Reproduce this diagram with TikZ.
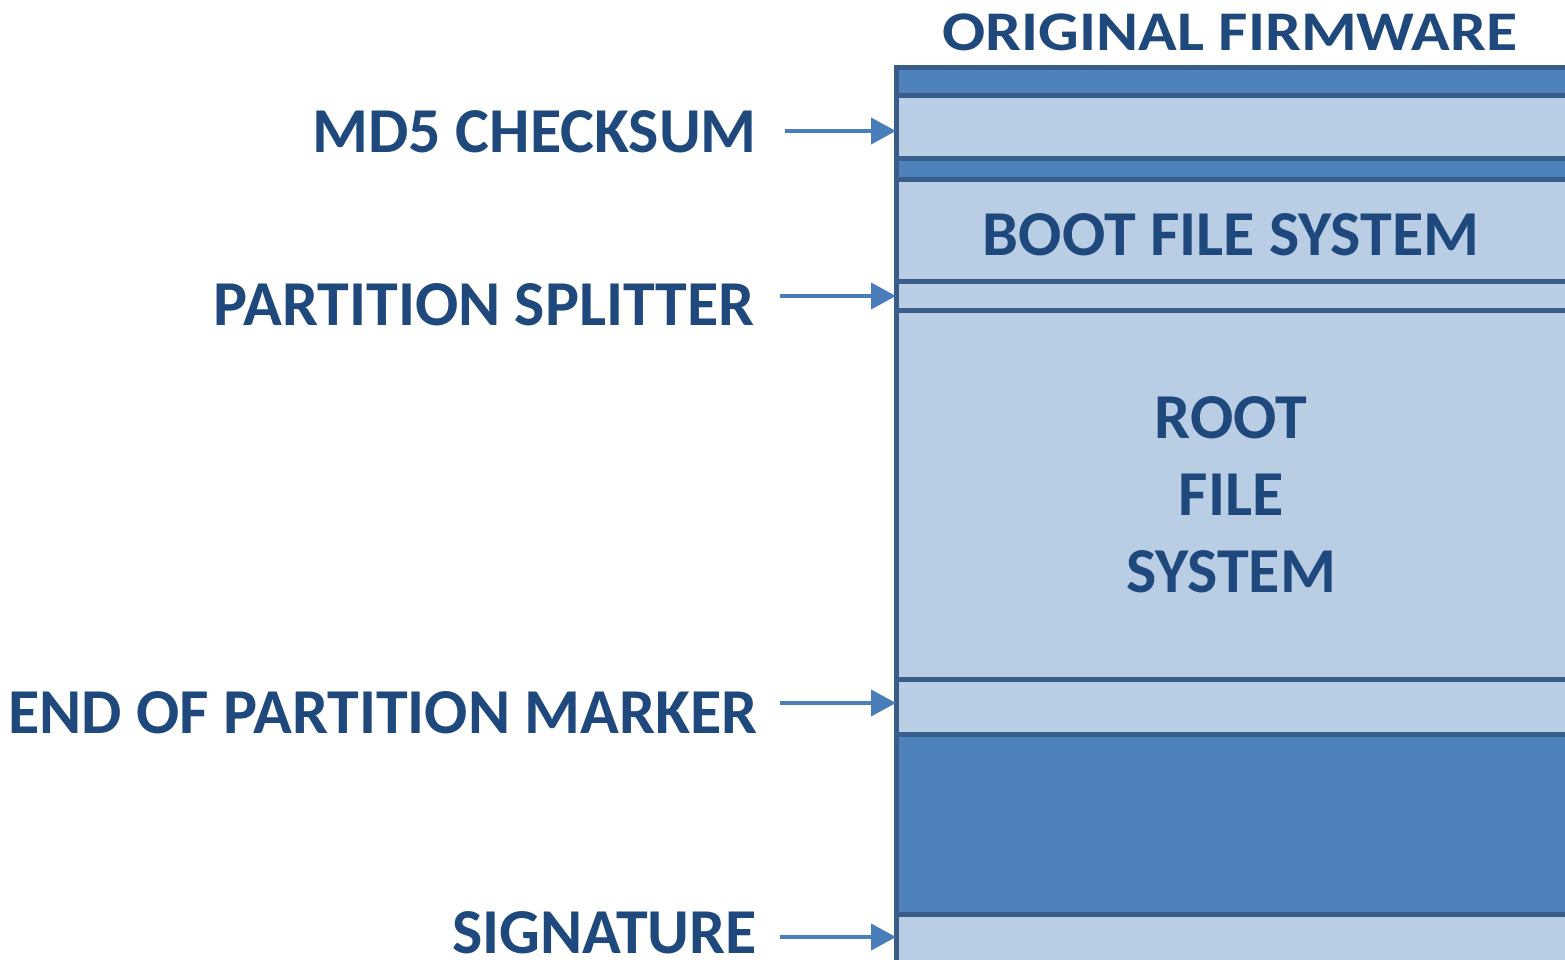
\documentclass[tikz,border=0pt]{standalone}
\usepackage{fontspec}
\setmainfont{Carlito}
\usetikzlibrary{arrows.meta}
\definecolor{txt}{HTML}{1F497D}
\definecolor{lightband}{HTML}{B9CDE5}
\definecolor{darkband}{HTML}{4F81BD}
\definecolor{bordercol}{HTML}{385D8A}
\definecolor{arrowcol}{HTML}{4A7EBB}
\begin{document}
\begin{tikzpicture}[x=1pt,y=-1pt,
  band/.style={draw=bordercol, line width=5pt, minimum width=724pt, inner sep=0pt, outer sep=0pt},
  lightb/.style={band, fill=lightband},
  darkb/.style={band, fill=darkband},
  lab/.style={font=\fontsize{64}{77}\selectfont\bfseries, text=txt, inner sep=0pt, text height=40pt, text depth=0pt},
  arr/.style={draw=arrowcol, line width=4pt, -{Triangle[length=25pt,width=26pt]}}
]
\useasboundingbox (0,0) rectangle (1565,960);
\clip (0,0) rectangle (1565,960);
% bands (x from 896 to 1620)
\node[darkb,  minimum height=27.5pt] (top)   at (1258, 81.75) {};
\node[lightb, minimum height=63.5pt] (md5)   at (1258, 127.25) {};
\node[darkb,  minimum height=20.5pt] (mid)   at (1258, 169.25) {};
\node[lightb, minimum height=101.5pt] (boot) at (1258, 230.25) {};
\node[lightb, minimum height=29.5pt] (split) at (1258, 295.75) {};
\node[lightb, minimum height=369pt] (root)   at (1258, 495) {};
\node[lightb, minimum height=54.5pt] (endm)  at (1258, 706.75) {};
\node[darkb,  minimum height=180pt] (low)    at (1258, 824) {};
\node[lightb, minimum height=86pt] (sig)     at (1258, 957) {};
% texts in box
\node[lab, font=\fontsize{56}{66}\selectfont\bfseries, text height=36pt, transform shape, xscale=1.14] (title) at (1230, 33) {ORIGINAL FIRMWARE};
\node[lab] (tboot) at (1231, 235) {BOOT FILE SYSTEM};
\node[lab, text height=, text depth=, align=center] (troot) at (1231, 495) {ROOT\\FILE\\SYSTEM};
% labels
\node[lab, anchor=east] (lmd5)   at (757, 133) {MD5 CHECKSUM};
\node[lab, anchor=east] (lsplit) at (755, 305) {PARTITION SPLITTER};
\node[lab, anchor=east] (lend)   at (758, 713) {END OF PARTITION MARKER};
\node[lab, anchor=east] (lsig)   at (757, 933) {SIGNATURE};
% arrows
\coordinate (amd5) at (785, 131);
\coordinate (asplit) at (780, 296);
\coordinate (aend) at (780, 703);
\coordinate (asig) at (780, 937);
\draw[arr] (amd5) -- (amd5 -| md5.west);
\draw[arr] (asplit) -- (asplit -| split.west);
\draw[arr] (aend) -- (aend -| endm.west);
\draw[arr] (asig) -- (asig -| sig.west);
\end{tikzpicture}
\end{document}
